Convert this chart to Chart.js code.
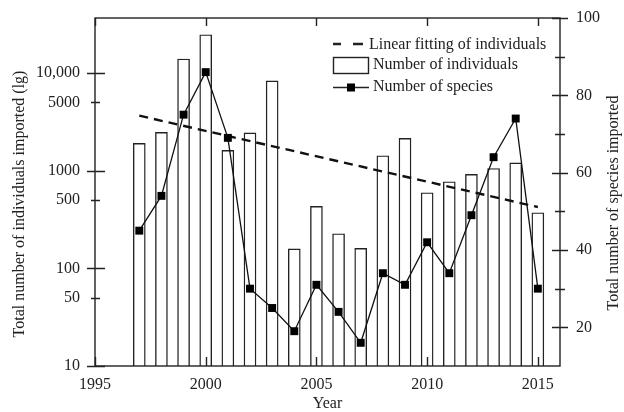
<!DOCTYPE html>
<html>
<head>
<meta charset="utf-8">
<script src="https://cdn.jsdelivr.net/npm/chart.js@4/dist/chart.umd.min.js"></script>
<style>
  html, body { margin: 0; padding: 0; background: #fff; }
</style>
</head>
<body>
<canvas id="myChart" width="624" height="412"></canvas>
<script>
var years = [1997, 1998, 1999, 2000, 2001, 2002, 2003, 2004, 2005, 2006, 2007, 2008, 2009, 2010, 2011, 2012, 2013, 2014, 2015];
var individuals = [1900, 2460, 13900, 24600, 1610, 2430, 8300, 158, 431, 226, 160, 1420, 2140, 594, 769, 914, 1050, 1200, 370];
var species = [45, 54, 75, 86, 69, 30, 25, 19, 31, 24, 16, 34, 31, 42, 34, 49, 64, 74, 30];
var fitYears = [1997, 2015];
var fitValues = [3650, 424];
var leftTicks = [10, 50, 100, 500, 1000, 5000, 10000];
var leftMajor = [10, 100, 1000, 10000];
var rightTicks = [20, 30, 40, 50, 60, 70, 80, 90, 100];
var yearTicks = [1995, 2000, 2005, 2010, 2015];

var font = { family: 'Liberation Serif', size: 16 };
var ink = '#222';

function pts(xs, ys) {
  return xs.map(function (x, i) { return { x: x, y: ys[i] }; });
}

function fixWidth(w) {
  return function (s) {
    s.width = w;
    s.paddingTop = 0;
    s.paddingBottom = 0;
  };
}

// axes frame, tick marks, titles and legend
var frame = {
  id: 'frame',
  afterDraw: function (chart) {
    var ctx = chart.ctx, a = chart.chartArea;
    var sx = chart.scales.x, sy = chart.scales.y, sy2 = chart.scales.y2;
    ctx.save();
    ctx.strokeStyle = ink;
    ctx.lineWidth = 1.4;
    ctx.strokeRect(a.left, a.top, a.right - a.left, a.bottom - a.top);

    ctx.beginPath();
    leftTicks.forEach(function (v) {
      var y = Math.round(sy.getPixelForValue(v)) + 0.5;
      if (leftMajor.indexOf(v) >= 0) { ctx.moveTo(a.left - 8, y); ctx.lineTo(a.left + 10, y); }
      else { ctx.moveTo(a.left - 4, y); ctx.lineTo(a.left + 5, y); }
    });
    rightTicks.forEach(function (v) {
      var y = Math.round(sy2.getPixelForValue(v)) + 0.5;
      if (v % 20 === 0) { ctx.moveTo(a.right - 8, y); ctx.lineTo(a.right + 8, y); }
      else { ctx.moveTo(a.right - 5, y); ctx.lineTo(a.right + 5, y); }
    });
    yearTicks.forEach(function (v) {
      var x = Math.round(sx.getPixelForValue(v)) + 0.5;
      ctx.moveTo(x, a.bottom); ctx.lineTo(x, a.bottom - 9);
      ctx.moveTo(x, a.top); ctx.lineTo(x, a.top + 8);
    });
    ctx.stroke();

    ctx.fillStyle = ink;
    ctx.font = '16px "Liberation Serif"';
    ctx.textBaseline = 'middle';
    ctx.textAlign = 'center';
    ctx.fillText('Year', (a.left + a.right) / 2, 404);

    ctx.save();
    ctx.translate(20, 204);
    ctx.rotate(-Math.PI / 2);
    ctx.fillText('Total number of individuals imported (lg)', 0, 0);
    ctx.restore();
    ctx.save();
    ctx.translate(614, 203);
    ctx.rotate(-Math.PI / 2);
    ctx.fillText('Total number of species imported', 0, 0);
    ctx.restore();

    // legend
    ctx.textAlign = 'left';
    ctx.lineWidth = 2.4;
    ctx.beginPath();
    ctx.moveTo(333, 44); ctx.lineTo(341, 44);
    ctx.moveTo(353, 44); ctx.lineTo(363, 44);
    ctx.stroke();
    ctx.fillText('Linear fitting of individuals', 369, 45);

    ctx.lineWidth = 1.4;
    ctx.strokeRect(333.5, 57.5, 35, 16);
    ctx.fillText('Number of individuals', 373, 65);

    ctx.lineWidth = 1.3;
    ctx.beginPath();
    ctx.moveTo(333, 87.5); ctx.lineTo(369, 87.5);
    ctx.stroke();
    ctx.fillStyle = '#000';
    ctx.fillRect(347, 83.5, 8, 8);
    ctx.fillStyle = ink;
    ctx.fillText('Number of species', 373, 87);
    ctx.restore();
  }
};

new Chart(document.getElementById('myChart'), {
  type: 'bar',
  data: {
    datasets: [
      {
        type: 'line',
        label: 'Number of species',
        data: pts(years, species),
        yAxisID: 'y2',
        borderColor: '#111',
        borderWidth: 1.3,
        pointStyle: 'rect',
        pointRadius: 5.6,
        pointBackgroundColor: '#000',
        pointBorderWidth: 0,
        tension: 0,
        order: 0
      },
      {
        type: 'line',
        label: 'Linear fitting of individuals',
        data: pts(fitYears, fitValues),
        yAxisID: 'y',
        borderColor: '#111',
        borderWidth: 2.4,
        borderDash: [9, 6],
        pointRadius: 0,
        order: 1
      },
      {
        type: 'bar',
        label: 'Number of individuals',
        data: pts(years, individuals),
        yAxisID: 'y',
        backgroundColor: '#fff',
        borderColor: '#222',
        borderWidth: 1.4,
        barThickness: 12,
        order: 2
      }
    ]
  },
  options: {
    responsive: false,
    animation: false,
    layout: { padding: { top: 18 } },
    plugins: { legend: { display: false }, tooltip: { enabled: false } },
    scales: {
      x: {
        type: 'linear',
        offset: false,
        min: 1995,
        max: 2016,
        grid: { display: false, drawTicks: false, offset: false },
        border: { display: false },
        afterBuildTicks: function (s) { s.ticks = yearTicks.map(function (v) { return { value: v }; }); },
        afterFit: function (s) { s.height = 46; s.paddingLeft = 0; s.paddingRight = 0; },
        ticks: { padding: 9, font: font, color: ink, maxRotation: 0, callback: function (v) { return String(v); } }
      },
      y: {
        type: 'logarithmic',
        position: 'left',
        min: 10,
        max: 36500,
        grid: { display: false, drawTicks: false },
        border: { display: false },
        afterBuildTicks: function (s) { s.ticks = leftTicks.map(function (v) { return { value: v }; }); },
        afterFit: fixWidth(95),
        ticks: { padding: 15, font: font, color: ink, callback: function (v) { return v === 10000 ? '10,000' : String(v); } }
      },
      y2: {
        type: 'linear',
        position: 'right',
        min: 10,
        max: 100,
        grid: { display: false, drawTicks: false },
        border: { display: false },
        afterBuildTicks: function (s) { s.ticks = rightTicks.map(function (v) { return { value: v }; }); },
        afterFit: fixWidth(64),
        ticks: { padding: 16, font: font, color: ink, callback: function (v) { return v % 20 === 0 ? String(v) : ''; } }
      }
    }
  },
  plugins: [frame]
});
</script>
</body>
</html>
